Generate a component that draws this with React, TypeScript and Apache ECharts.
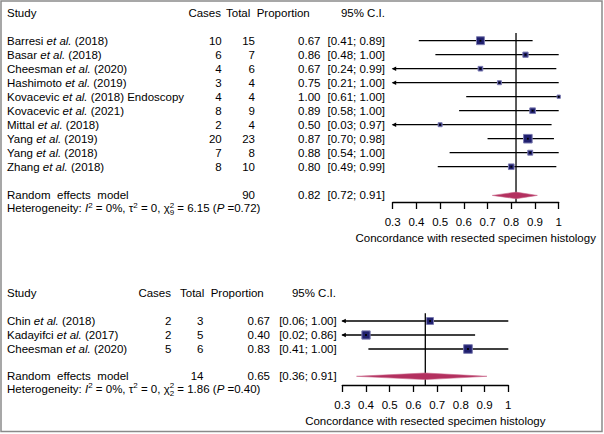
import React, { useEffect, useRef } from 'react';
import * as echarts from 'echarts';

// ---------------- Data: upper panel ----------------
const topStudies = [
  'Barresi et al. (2018)',
  'Basar et al. (2018)',
  'Cheesman et al. (2020)',
  'Hashimoto et al. (2019)',
  'Kovacevic et al. (2018) Endoscopy',
  'Kovacevic et al. (2021)',
  'Mittal et al. (2018)',
  'Yang et al. (2019)',
  'Yang et al. (2018)',
  'Zhang et al. (2018)',
];
const topCases = [10, 6, 4, 3, 4, 8, 2, 20, 7, 8];
const topTotals = [15, 7, 6, 4, 4, 9, 4, 23, 8, 10];
const topProps = [0.67, 0.86, 0.67, 0.75, 1.0, 0.89, 0.5, 0.87, 0.88, 0.8];
const topLower = [0.41, 0.48, 0.24, 0.21, 0.61, 0.58, 0.03, 0.7, 0.54, 0.49];
const topUpper = [0.89, 1.0, 0.99, 1.0, 1.0, 1.0, 0.97, 0.98, 1.0, 0.99];
const topWeights = [19.8, 8.7, 6.8, 5.0, 3.4, 10.1, 5.0, 23.4, 7.7, 10.1];
const topSummary = [0.82, 0.72, 0.91]; // estimate, lower, upper
const topSummaryTotal = 90;
const topHet = ['0%', '0', '9', '6.15', '0.72']; // I2, tau2, df, chi2, P

// ---------------- Data: lower panel ----------------
const botStudies = ['Chin et al. (2018)', 'Kadayifci et al. (2017)', 'Cheesman et al. (2020)'];
const botCases = [2, 2, 5];
const botTotals = [3, 5, 6];
const botProps = [0.67, 0.4, 0.83];
const botLower = [0.06, 0.02, 0.41];
const botUpper = [1.0, 0.86, 1.0];
const botWeights = [25, 36, 39];
const botSummary = [0.65, 0.36, 0.91];
const botSummaryTotal = 14;
const botHet = ['0%', '0', '2', '1.86', '0.40'];

// ---------------- Axis ----------------
const X_MIN = 0.3;
const X_MAX = 1;
const X_INTERVAL = 0.1;
const AXIS_TITLE = 'Concordance with resected specimen histology';
const headerLabels = ['Study', 'Cases', 'Total', 'Proportion', '95% C.I.'];
const summaryLabel = ['Random', 'effects', 'model'];

// ---------------- Styles / layout ----------------
const FONT = '"Liberation Sans", Arial, Helvetica, sans-serif';
const FS = 11.5;
const SUP = 8;
const MAX_BOX = 8.6;

const panels = [
  {
    studies: topStudies, cases: topCases, totals: topTotals, props: topProps,
    lower: topLower, upper: topUpper, weights: topWeights, summary: topSummary,
    summaryTotal: topSummaryTotal, het: topHet,
    layout: {
      gridLeft: 392.7, gridTop: 33, gridW: 166, gridH: 169,
      yMin: -0.55, yMax: 11.52, headerRow: -2, summaryRow: 11.05, hetRow: 11.95,
      col: { study: 7, casesHdr: 221, totalHdr: 226, propHdr: 256.7, ciHdr: 385,
        cases: 221.7, total: 255, prop: 320.5, ci: 385 },
    },
  },
  {
    studies: botStudies, cases: botCases, totals: botTotals, props: botProps,
    lower: botLower, upper: botUpper, weights: botWeights, summary: botSummary,
    summaryTotal: botSummaryTotal, het: botHet,
    layout: {
      gridLeft: 342.3, gridTop: 313.3, gridW: 166, gridH: 71.7,
      yMin: -0.55, yMax: 4.571, headerRow: -2, summaryRow: 3.95, hetRow: 4.85,
      col: { study: 7, casesHdr: 171, totalHdr: 180, propHdr: 210.7, ciHdr: 336,
        cases: 171.5, total: 203.5, prop: 270, ci: 336.7 },
    },
  },
];

let measureCtx: CanvasRenderingContext2D | null = null;
function measure(text: string, size: number, italic?: boolean): number {
  if (!measureCtx) measureCtx = document.createElement('canvas').getContext('2d');
  if (!measureCtx) return text.length * size * 0.5;
  measureCtx.font = `${italic ? 'italic ' : ''}${size}px "Liberation Sans"`;
  return measureCtx.measureText(text).width;
}

type Piece = { text: string; x: number; align: 'left' | 'right' | 'center'; italic?: boolean; size?: number; dy?: number };
type Line = { row: number; pieces: Piece[] };

function studyPieces(label: string, x0: number): Piece[] {
  const parts = label.split('et al.');
  const out: Piece[] = [];
  let x = x0;
  parts.forEach((p, i) => {
    if (i > 0) {
      out.push({ text: 'et al.', x, align: 'left', italic: true });
      x += measure('et al.', FS, true);
    }
    if (p) {
      out.push({ text: p, x, align: 'left' });
      x += measure(p, FS);
    }
  });
  return out;
}

function hetPieces(het: string[], x0: number): Piece[] {
  const [i2, tau2, df, chi2, p] = het;
  const out: Piece[] = [];
  let x = x0;
  const add = (text: string, italic?: boolean) => {
    out.push({ text, x, align: 'left', italic });
    x += measure(text, FS, italic);
  };
  const sup = (text: string, sub?: string) => {
    out.push({ text, x, align: 'left', size: SUP, dy: -3 });
    let w = measure(text, SUP);
    if (sub) {
      out.push({ text: sub, x, align: 'left', size: SUP, dy: 4.2 });
      w = Math.max(w, measure(sub, SUP));
    }
    x += w;
  };
  add('Heterogeneity: ');
  add('I', true);
  sup('2');
  add(` = ${i2}, \u03c4`);
  sup('2');
  add(` = ${tau2}, \u03c7`);
  sup('2', df);
  add(` = ${chi2} (`);
  add('P', true);
  add(` =${p})`);
  return out;
}

function buildPanel(pi: number) {
  const P = panels[pi];
  const L = P.layout;
  const C = L.col;
  const n = P.studies.length;
  const rows = P.studies.map((_, i) => i);

  const lines: Line[] = [];
  lines.push({
    row: L.headerRow,
    pieces: [
      { text: headerLabels[0], x: C.study, align: 'left' },
      { text: headerLabels[1], x: C.casesHdr, align: 'right' },
      { text: headerLabels[2], x: C.totalHdr, align: 'left' },
      { text: headerLabels[3], x: C.propHdr, align: 'left' },
      { text: headerLabels[4], x: C.ciHdr, align: 'right' },
    ],
  });
  for (let i = 0; i < n; i++) {
    lines.push({
      row: rows[i],
      pieces: [
        ...studyPieces(P.studies[i], C.study),
        { text: String(P.cases[i]), x: C.cases, align: 'right' },
        { text: String(P.totals[i]), x: C.total, align: 'right' },
        { text: P.props[i].toFixed(2), x: C.prop, align: 'right' },
        { text: `[${P.lower[i].toFixed(2)}; ${P.upper[i].toFixed(2)}]`, x: C.ci, align: 'right' },
      ],
    });
  }
  const gap = 6.6;
  let sx = C.study;
  const sumPieces: Piece[] = summaryLabel.map((w) => {
    const pc: Piece = { text: w, x: sx, align: 'left' };
    sx += measure(w, FS) + gap;
    return pc;
  });
  lines.push({
    row: L.summaryRow,
    pieces: [
      ...sumPieces,
      { text: String(P.summaryTotal), x: C.total, align: 'right' },
      { text: P.summary[0].toFixed(2), x: C.prop, align: 'right' },
      { text: `[${P.summary[1].toFixed(2)}; ${P.summary[2].toFixed(2)}]`, x: C.ci, align: 'right' },
    ],
  });
  lines.push({ row: L.hetRow, pieces: hetPieces(P.het, C.study) });

  const maxW = Math.max(...P.weights);
  const common = { coordinateSystem: 'cartesian2d', xAxisIndex: pi, yAxisIndex: pi, silent: true, clip: false } as any;

  const series: any[] = [
    {
      ...common,
      type: 'custom',
      data: [[P.summary[0], L.yMin, L.yMax]],
      renderItem: (_p: any, api: any) => {
        const a = api.coord([api.value(0), api.value(1)]);
        const b = api.coord([api.value(0), api.value(2)]);
        return { type: 'line', shape: { x1: a[0], y1: a[1], x2: b[0], y2: b[1] }, style: { stroke: '#000', lineWidth: 1.3 } };
      },
      z: 2,
    },
    {
      ...common,
      type: 'custom',
      data: rows.map((r, i) => [P.lower[i], P.upper[i], r]),
      renderItem: (_p: any, api: any) => {
        const lo = api.value(0);
        const hi = api.value(1);
        const r = api.value(2);
        const a = api.coord([Math.max(lo, X_MIN), r]);
        const b = api.coord([Math.min(hi, X_MAX), r]);
        const children: any[] = [
          { type: 'line', shape: { x1: a[0], y1: a[1], x2: b[0], y2: b[1] }, style: { stroke: '#000', lineWidth: 1.3 } },
        ];
        if (lo < X_MIN) {
          children.push({
            type: 'polygon',
            shape: { points: [[a[0] - 1, a[1]], [a[0] + 3.5, a[1] - 2.2], [a[0] + 3.5, a[1] + 2.2]] },
            style: { fill: '#000' },
          });
        }
        return { type: 'group', children };
      },
      z: 3,
    },
    {
      ...common,
      type: 'custom',
      data: rows.map((r, i) => [P.props[i], r, P.weights[i]]),
      renderItem: (_p: any, api: any) => {
        const c = api.coord([api.value(0), api.value(1)]);
        const s = MAX_BOX * Math.sqrt(api.value(2) / maxW);
        return {
          type: 'group',
          children: [
            { type: 'rect', shape: { x: c[0] - s / 2, y: c[1] - s / 2, width: s, height: s }, style: { fill: '#1f1f6e', stroke: '#7b7bb0', lineWidth: 1 } },
            { type: 'rect', shape: { x: c[0] - 0.9, y: c[1] - 0.9, width: 1.8, height: 1.8 }, style: { fill: '#000' } },
          ],
        };
      },
      z: 4,
    },
    {
      ...common,
      type: 'custom',
      data: [[P.summary[0], P.summary[1], P.summary[2], L.summaryRow]],
      renderItem: (_p: any, api: any) => {
        const r = api.value(3);
        const c = api.coord([api.value(0), r]);
        const l = api.coord([api.value(1), r]);
        const h = api.coord([api.value(2), r]);
        const hh = 3.3;
        return {
          type: 'polygon',
          shape: { points: [[l[0], l[1]], [c[0], c[1] - hh], [h[0], h[1]], [c[0], c[1] + hh]] },
          style: { fill: '#b3305f', stroke: '#c9668a', lineWidth: 0.6 },
        };
      },
      z: 5,
    },
    {
      ...common,
      type: 'custom',
      data: lines.map((l) => [X_MIN, l.row]),
      renderItem: (params: any, api: any) => {
        const line = lines[params.dataIndex];
        const y = api.coord([X_MIN, api.value(1)])[1];
        return {
          type: 'group',
          children: line.pieces.map((p) => ({
            type: 'text',
            x: p.x,
            y: y + (p.dy || 0),
            style: {
              text: p.text,
              fill: '#000',
              fontSize: p.size || FS,
              fontFamily: FONT,
              fontStyle: p.italic ? 'italic' : 'normal',
              align: p.align,
              verticalAlign: 'middle',
            },
          })),
        };
      },
      z: 6,
    },
  ];

  const grid = {
    left: L.gridLeft, top: L.gridTop, width: L.gridW, height: L.gridH,
    containLabel: false, outerBoundsMode: 'none',
  };
  const xAxis = {
    type: 'value', gridIndex: pi, min: X_MIN, max: X_MAX, interval: X_INTERVAL, position: 'bottom',
    axisLine: { show: true, onZero: false, lineStyle: { color: '#000', width: 1.3 } },
    axisTick: { show: true, length: 7, inside: false, lineStyle: { color: '#000', width: 1.3 } },
    splitLine: { show: false },
    axisLabel: {
      margin: 14, color: '#000', fontSize: FS, fontFamily: FONT,
      formatter: (v: number) => (Math.abs(v - 1) < 1e-9 ? '1' : v.toFixed(1)),
    },
    name: AXIS_TITLE, nameLocation: 'middle', nameGap: 30,
    nameTextStyle: { color: '#000', fontSize: FS, fontFamily: FONT },
  };
  const yAxis = { type: 'value', gridIndex: pi, min: L.yMin, max: L.yMax, inverse: true, show: false };
  return { grid, xAxis, yAxis, series };
}

export default function App() {
  const ref = useRef<HTMLDivElement>(null);
  useEffect(() => {
    document.body.style.margin = '0';
    if (!ref.current) return;
    const chart = echarts.init(ref.current, null, { renderer: 'svg' });
    const a = buildPanel(0);
    const b = buildPanel(1);
    chart.setOption({
      animation: false,
      backgroundColor: '#fff',
      grid: [a.grid, b.grid],
      xAxis: [a.xAxis, b.xAxis],
      yAxis: [a.yAxis, b.yAxis],
      series: [...a.series, ...b.series],
      graphic: [
        {
          type: 'rect',
          silent: true,
          z: 0,
          shape: { x: 1, y: 1, width: 601, height: 430.5 },
          style: { fill: 'none', stroke: '#8a8a8a', lineWidth: 1.5 },
        },
      ],
    });
    return () => chart.dispose();
  }, []);
  return <div ref={ref} style={{ width: 604, height: 434 }} />;
}
